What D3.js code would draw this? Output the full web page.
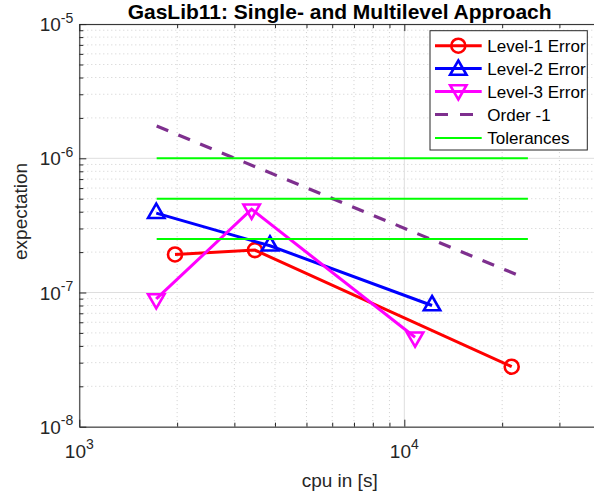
<!DOCTYPE html>
<html>
<head>
<meta charset="utf-8">
<script src="https://cdn.jsdelivr.net/npm/d3@7"></script>
<style>
  html, body { margin: 0; padding: 0; background: #fff; }
  svg { display: block; font-family: "Liberation Sans", Arial, Helvetica, sans-serif; }
</style>
</head>
<body>
<svg id="chart" width="594" height="495"></svg>
<script>
// ---- data ----
const level1X = [1970, 3470, 21400];
const level1Y = [1.92e-7, 2.07e-7, 2.80e-8];
const level2X = [1725, 3860, 12170];
const level2Y = [3.9e-7, 2.23e-7, 8.0e-8];
const level3X = [1725, 3390, 10790];
const level3Y = [8.95e-8, 4.17e-7, 4.64e-8];
const orderX = [1730, 23000];
const orderY = [1.74e-6, 1.31e-7];
const tolX = [1730, 24000];
const tolY = [1e-6, 5e-7, 2.5e-7];
const xMajorTicks = [1e3, 1e4];
const xMajorExp = ["3", "4"];
const yMajorTicks = [1e-5, 1e-6, 1e-7, 1e-8];
const yMajorExp = ["-5", "-6", "-7", "-8"];
const legendLabels = ["Level-1 Error", "Level-2 Error", "Level-3 Error", "Order -1", "Tolerances"];
const titleText = "GasLib11: Single- and Multilevel Approach";
const xLabelText = "cpu in [s]";
const yLabelText = "expectation";

// ---- layout ----
const L = 79.3, T = 24.1, B = 426.7, R = 600;
const axisColor = "#262626";
const svg = d3.select("#chart");

const x = d3.scaleLog().domain([1e3, 4e4]).range([L, R]);
const y = d3.scaleLog().domain([1e-8, 1e-5]).range([B, T]);

function minorTicks(lo, hi) {
  const out = [];
  for (let e = Math.floor(Math.log10(lo)); e <= Math.ceil(Math.log10(hi)); e++) {
    for (let m = 1; m <= 9; m++) {
      const v = m * Math.pow(10, e);
      if (v >= lo * 0.9999 && v <= hi * 1.0001) out.push(v);
    }
  }
  return out;
}
const xAll = minorTicks(1e3, 4e4);
const yAll = minorTicks(1e-8, 1e-5);
const isMajor = v => Math.abs(Math.log10(v) - Math.round(Math.log10(v))) < 1e-9;
const xMinor = xAll.filter(v => !isMajor(v));
const yMinor = yAll.filter(v => !isMajor(v));

// ---- grid ----
const grid = svg.append("g");
grid.selectAll(".xminor").data(xMinor).join("line")
  .attr("x1", d => x(d)).attr("x2", d => x(d)).attr("y1", T).attr("y2", B)
  .attr("stroke", "#cfcfcf").attr("stroke-width", 1).attr("stroke-dasharray", "1,3");
grid.selectAll(".yminor").data(yMinor).join("line")
  .attr("y1", d => y(d)).attr("y2", d => y(d)).attr("x1", L).attr("x2", R)
  .attr("stroke", "#cfcfcf").attr("stroke-width", 1).attr("stroke-dasharray", "1,3");
grid.selectAll(".xmajor").data(xMajorTicks).join("line")
  .attr("x1", d => x(d)).attr("x2", d => x(d)).attr("y1", T).attr("y2", B)
  .attr("stroke", "#dedede").attr("stroke-width", 1);
grid.selectAll(".ymajor").data(yMajorTicks).join("line")
  .attr("y1", d => y(d)).attr("y2", d => y(d)).attr("x1", L).attr("x2", R)
  .attr("stroke", "#dedede").attr("stroke-width", 1);

// ---- axes (box with inward ticks) ----
const axes = svg.append("g");
const bottomAxis = d3.axisBottom(x).tickValues(xAll).tickSizeInner(-4).tickSizeOuter(0).tickFormat("");
const topAxis = d3.axisTop(x).tickValues(xAll).tickSizeInner(-4).tickSizeOuter(0).tickFormat("");
const leftAxis = d3.axisLeft(y).tickValues(yAll).tickSizeInner(-4).tickSizeOuter(0).tickFormat("");
axes.append("g").attr("transform", `translate(0,${B})`).call(bottomAxis);
axes.append("g").attr("transform", `translate(0,${T})`).call(topAxis);
axes.append("g").attr("transform", `translate(${L},0)`).call(leftAxis);
axes.selectAll(".domain").attr("stroke", axisColor).attr("stroke-width", 1);
axes.selectAll(".tick line").attr("stroke", axisColor).attr("stroke-width", 1);
// longer major ticks
axes.selectAll(".tick").filter(d => isMajor(d)).select("line")
  .each(function() {
    const l = d3.select(this);
    if (l.attr("y2") !== null && +l.attr("y2") !== 0) l.attr("y2", +l.attr("y2") > 0 ? 7 : -7);
    if (l.attr("x2") !== null && +l.attr("x2") !== 0) l.attr("x2", +l.attr("x2") > 0 ? 7 : -7);
  });

// tick labels
const tickFont = 19;
const supFont = 14;
const xl = svg.append("g").attr("fill", axisColor).attr("font-size", tickFont);
xMajorTicks.forEach((v, i) => {
  const t = xl.append("text").attr("x", x(v)).attr("y", B + 31).attr("text-anchor", "middle");
  t.append("tspan").text("10");
  t.append("tspan").attr("font-size", supFont).attr("dy", -8.5).text(xMajorExp[i]);
});
const yl = svg.append("g").attr("fill", axisColor).attr("font-size", tickFont);
yMajorTicks.forEach((v, i) => {
  const t = yl.append("text").attr("x", L - 6).attr("y", y(v) + 7).attr("text-anchor", "end");
  t.append("tspan").text("10");
  t.append("tspan").attr("font-size", supFont).attr("dy", -8.5).text(yMajorExp[i]);
});

// axis labels and title
svg.append("text").attr("x", (L + R) / 2).attr("y", 487).attr("text-anchor", "middle")
  .attr("font-size", 19).attr("fill", axisColor).text(xLabelText);
svg.append("text").attr("transform", `translate(27,${(T + B) / 2 - 14}) rotate(-90)`)
  .attr("text-anchor", "middle").attr("font-size", 19).attr("fill", axisColor).text(yLabelText);
svg.append("text").attr("x", (L + R) / 2).attr("y", 19).attr("text-anchor", "middle")
  .attr("font-size", 21).attr("font-weight", "bold").attr("fill", "#000").text(titleText);

// ---- series ----
const plot = svg.append("g");
const line = d3.line().x(d => x(d[0])).y(d => y(d[1]));
const zip = (a, b) => a.map((v, i) => [v, b[i]]);

const triUp = "M0,-9.5L8.2,4.75L-8.2,4.75Z";
const triDown = "M0,9.5L8.2,-4.75L-8.2,-4.75Z";

const series = [
  { xs: level1X, ys: level1Y, color: "#ff0000", marker: "circle" },
  { xs: level2X, ys: level2Y, color: "#0000ff", marker: triUp },
  { xs: level3X, ys: level3Y, color: "#ff00ff", marker: triDown }
];

function drawMarker(g, marker, color, cx, cy) {
  if (marker === "circle") {
    g.append("circle").attr("cx", cx).attr("cy", cy).attr("r", 7)
      .attr("fill", "none").attr("stroke", color).attr("stroke-width", 2.6);
  } else {
    g.append("path").attr("d", marker).attr("transform", `translate(${cx},${cy})`)
      .attr("fill", "none").attr("stroke", color).attr("stroke-width", 2.6)
      .attr("stroke-linejoin", "miter");
  }
}

series.forEach(s => {
  const pts = zip(s.xs, s.ys);
  plot.append("path").attr("d", line(pts)).attr("fill", "none")
    .attr("stroke", s.color).attr("stroke-width", 3);
  pts.forEach(p => drawMarker(plot, s.marker, s.color, x(p[0]), y(p[1])));
});

plot.append("path").attr("d", line(zip(orderX, orderY))).attr("fill", "none")
  .attr("stroke", "#7e2f8e").attr("stroke-width", 3.2).attr("stroke-dasharray", "12.5,11");

tolY.forEach(v => {
  plot.append("path").attr("d", line([[tolX[0], v], [tolX[1], v]])).attr("fill", "none")
    .attr("stroke", "#00ff00").attr("stroke-width", 2);
});

// ---- legend ----
const lg = svg.append("g");
const lgX0 = 430, lgY0 = 30.7, lgW = 157.3, lgH = 119.3;
lg.append("rect").attr("x", lgX0).attr("y", lgY0).attr("width", lgW).attr("height", lgH)
  .attr("fill", "#fff").attr("stroke", axisColor).attr("stroke-width", 1);
const rowY = [45.7, 68.5, 91.5, 114.5, 138];
const legStyles = [
  { color: "#ff0000", marker: "circle", w: 3 },
  { color: "#0000ff", marker: triUp, w: 3 },
  { color: "#ff00ff", marker: triDown, w: 3 },
  { color: "#7e2f8e", dash: "13,12", w: 3.2 },
  { color: "#00ff00", w: 2 }
];
legendLabels.forEach((lab, i) => {
  const st = legStyles[i];
  const yy = rowY[i];
  const ln = lg.append("line").attr("x1", 435).attr("x2", 481.7).attr("y1", yy).attr("y2", yy)
    .attr("stroke", st.color).attr("stroke-width", st.w);
  if (st.dash) ln.attr("stroke-dasharray", st.dash);
  if (st.marker) drawMarker(lg, st.marker, st.color, 458.3, yy + (st.marker === triUp ? 1.5 : st.marker === triDown ? -1.5 : 0));
  lg.append("text").attr("x", 487.3).attr("y", yy + 6).attr("font-size", 17)
    .attr("fill", "#000").text(lab);
});
</script>
</body>
</html>
